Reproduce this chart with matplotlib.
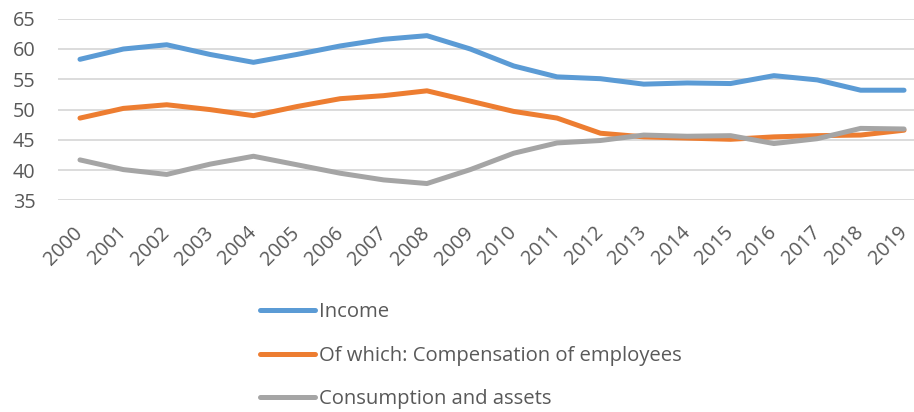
import matplotlib
matplotlib.use("Agg")
import matplotlib.pyplot as plt
from matplotlib.transforms import ScaledTranslation

years = [str(y) for y in range(2000, 2020)]
income = [58.3, 60.0, 60.7, 59.1, 57.8, 59.1, 60.5, 61.6, 62.2, 60.0,
          57.2, 55.4, 55.1, 54.2, 54.4, 54.3, 55.6, 54.9, 53.2, 53.2]
compensation = [48.6, 50.2, 50.8, 50.0, 49.0, 50.5, 51.8, 52.3, 53.1, 51.4,
                49.7, 48.6, 46.1, 45.5, 45.3, 45.1, 45.5, 45.7, 45.8, 46.6]
consumption = [41.7, 40.1, 39.3, 41.0, 42.3, 40.9, 39.5, 38.4, 37.8, 40.1,
               42.8, 44.5, 44.9, 45.8, 45.6, 45.7, 44.4, 45.2, 46.9, 46.8]
series_names = ["Income", "Of which: Compensation of employees", "Consumption and assets"]
series_colors = ["#5B9BD5", "#ED7D31", "#A5A5A5"]
y_ticks = [35, 40, 45, 50, 55, 60, 65]

plt.rcParams["font.family"] = ["Open Sans", "DejaVu Sans"]
text_color = "#595959"
fs_tick = 14.3
fs_leg = 14.6

W, H = 914, 412
fig = plt.figure(figsize=(W / 100, H / 100), dpi=100)
left_px, top_px, bottom_px = 58.3, 18.7, 200.5
ax = fig.add_axes([left_px / W, 1 - bottom_px / H, (W - left_px) / W, (bottom_px - top_px) / H])

x = list(range(len(years)))
for vals, name, col in zip([income, compensation, consumption], series_names, series_colors):
    ax.plot(x, vals, color=col, lw=3.6, label=name, solid_capstyle="round", solid_joinstyle="round")

ax.set_ylim(35, 65)
ax.set_yticks(y_ticks)
ax.set_xlim(-0.5, 19.23)
ax.set_xticks(x)
ax.set_xticklabels(years, rotation=45, ha="right", rotation_mode="anchor")
ax.grid(axis="y", color="#D9D9D9", lw=1.3)
ax.set_axisbelow(True)
for s in ax.spines.values():
    s.set_visible(False)
ax.tick_params(axis="both", length=0, colors=text_color, labelsize=fs_tick)
ax.tick_params(axis="y", pad=16.5)
ax.tick_params(axis="x", pad=16)

# nudge the slanted year labels slightly left so they sit under their points
shift = ScaledTranslation(-7 / 100, 0, fig.dpi_scale_trans)
for lbl in ax.get_xticklabels():
    lbl.set_transform(lbl.get_transform() + shift)

leg = fig.legend(loc="upper left", bbox_to_anchor=(260 / W, 1 - 302 / H), frameon=False,
                 fontsize=fs_leg, handlelength=2.72, handletextpad=0.2, labelspacing=1.17,
                 borderpad=0, borderaxespad=0)
for t in leg.get_texts():
    t.set_color(text_color)

fig.savefig("out.png", dpi=100)
